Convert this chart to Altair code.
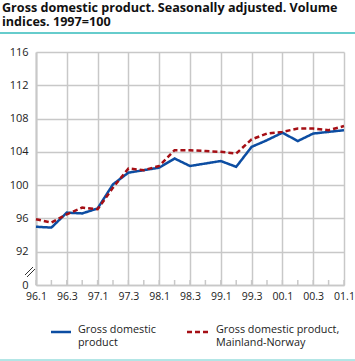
import altair as alt
import pandas as pd

quarters = ["96.1", "96.2", "96.3", "96.4", "97.1", "97.2", "97.3", "97.4",
            "98.1", "98.2", "98.3", "98.4", "99.1", "99.2", "99.3", "99.4",
            "00.1", "00.2", "00.3", "00.4", "01.1"]
gdp = [95.0, 94.9, 96.7, 96.6, 97.2, 100.1, 101.5, 101.8, 102.1, 103.2, 102.3,
       102.6, 102.9, 102.2, 104.6, 105.4, 106.3, 105.3, 106.2, 106.4, 106.6]
mainland = [95.9, 95.5, 96.5, 97.3, 97.1, 99.7, 102.0, 101.8, 102.3, 104.2, 104.2,
            104.1, 104.0, 103.8, 105.5, 106.2, 106.4, 106.8, 106.8, 106.6, 107.1]
series_names = ["Gross domestic product", "Gross domestic product, Mainland-Norway"]
legend_lines = [["Gross domestic", "product"], ["Gross domestic product,", "Mainland-Norway"]]
title_lines = ["Gross domestic product. Seasonally adjusted. Volume", "indices. 1997=100"]
y_ticks = [88, 92, 96, 100, 104, 108, 112, 116]

FONT = "Open Sans"
GRID = "#c8c8c8"
BLUE = "#0c4da2"
RED = "#a50f15"
TEAL = "#66cccc"

rows = []
for i, q in enumerate(quarters):
    rows.append({"idx": i, "q": q, "series": series_names[0], "value": gdp[i]})
    rows.append({"idx": i, "q": q, "series": series_names[1], "value": mainland[i]})
df = pd.DataFrame(rows)
qdf = pd.DataFrame({"idx": list(range(len(quarters))), "q": quarters})

label_arr = "[" + ",".join("'%s'" % q for q in quarters) + "]"

W, H = 308, 233

xscale = alt.Scale(domain=[0, len(quarters) - 1], nice=False, zero=False)
yscale = alt.Scale(domain=[88, 116], nice=False, zero=False)
color_scale = alt.Scale(domain=series_names, range=[BLUE, RED])
dash_scale = alt.Scale(domain=series_names, range=[[1, 0], [5, 3]])

x_axis = alt.Axis(values=list(range(0, len(quarters), 2)),
                  labelExpr=label_arr + "[datum.value]",
                  labelOverlap=False, labelFlush=False,
                  grid=True, gridColor=GRID, gridWidth=1.5,
                  ticks=False, domainColor=GRID, domainWidth=1.5,
                  labelPadding=6, labelFontSize=10.5, labelColor="#222",
                  labelFont=FONT)

lines = alt.Chart(df).mark_line(strokeWidth=2.5).encode(
    x=alt.X("idx:Q", scale=xscale, title=None, axis=x_axis),
    y=alt.Y("value:Q", scale=yscale, title=None,
            axis=alt.Axis(values=y_ticks,
                          labelExpr="datum.value == 88 ? '0' : datum.label",
                          labelOverlap=False,
                          grid=True, gridColor=GRID, gridWidth=1.5,
                          ticks=False, domainColor=GRID, domainWidth=2,
                          labelPadding=8, labelFontSize=11, labelColor="#222",
                          labelFont=FONT)),
    color=alt.Color("series:N", scale=color_scale, legend=None),
    strokeDash=alt.StrokeDash("series:N", scale=dash_scale, legend=None),
    detail="series:N",
)

ticks = alt.Chart(qdf).mark_rule(color=GRID, strokeWidth=1.5).encode(
    x=alt.X("idx:Q", scale=xscale, title=None, axis=x_axis),
    y=alt.value(H - 5), y2=alt.value(H),
)

one = alt.Data(values=[{}])

def txt(s, x, y, size=11, weight="normal", color="#222", lh=13):
    return alt.Chart(one).mark_text(text=s, align="left", baseline="top",
                                    lineHeight=lh,
                                    font=FONT, fontSize=size, fontWeight=weight,
                                    color=color).encode(x=alt.value(x), y=alt.value(y))

def seg(x1, y1, x2, y2, color, w):
    return alt.Chart(one).mark_rule(color=color, strokeWidth=w).encode(
        x=alt.value(x1), y=alt.value(y1), x2=alt.value(x2), y2=alt.value(y2))

title = txt(title_lines, -34, -50, 12.6, "bold", "#111", 14)
teal_top = seg(-36, -19, 319, -19, TEAL, 2)
teal_bot = seg(-36, 308, 319, 308, TEAL, 1)
brk1 = seg(-11, 223, -3, 215, "#333", 1)
brk2 = seg(-9, 225, -1, 217, "#333", 1)

leg_df = pd.DataFrame({"series": series_names})
sw1 = alt.Chart(leg_df).transform_filter(alt.datum.series == series_names[0]).mark_rule(strokeWidth=2.5).encode(
    x=alt.value(15), x2=alt.value(35), y=alt.value(280), y2=alt.value(280),
    color=alt.Color("series:N", scale=color_scale, legend=None),
    strokeDash=alt.StrokeDash("series:N", scale=dash_scale, legend=None))
sw2 = alt.Chart(leg_df).transform_filter(alt.datum.series == series_names[1]).mark_rule(strokeWidth=2.5).encode(
    x=alt.value(151), x2=alt.value(172), y=alt.value(280), y2=alt.value(280),
    color=alt.Color("series:N", scale=color_scale, legend=None),
    strokeDash=alt.StrokeDash("series:N", scale=dash_scale, legend=None))
l1 = txt(legend_lines[0], 42, 272, 10.8)
l2 = txt(legend_lines[1], 180, 272, 10.8)

chart = alt.layer(
    lines, ticks, title, teal_top, teal_bot, brk1, brk2,
    sw1, sw2, l1, l2,
).properties(
    width=W, height=H,
    autosize=alt.AutoSizeParams(type="none"),
    padding={"left": 36, "top": 52, "right": 11, "bottom": 76},
    background="white",
).configure_view(stroke=None)

chart.save("out.html", embed_options={"renderer": "svg", "actions": False})
